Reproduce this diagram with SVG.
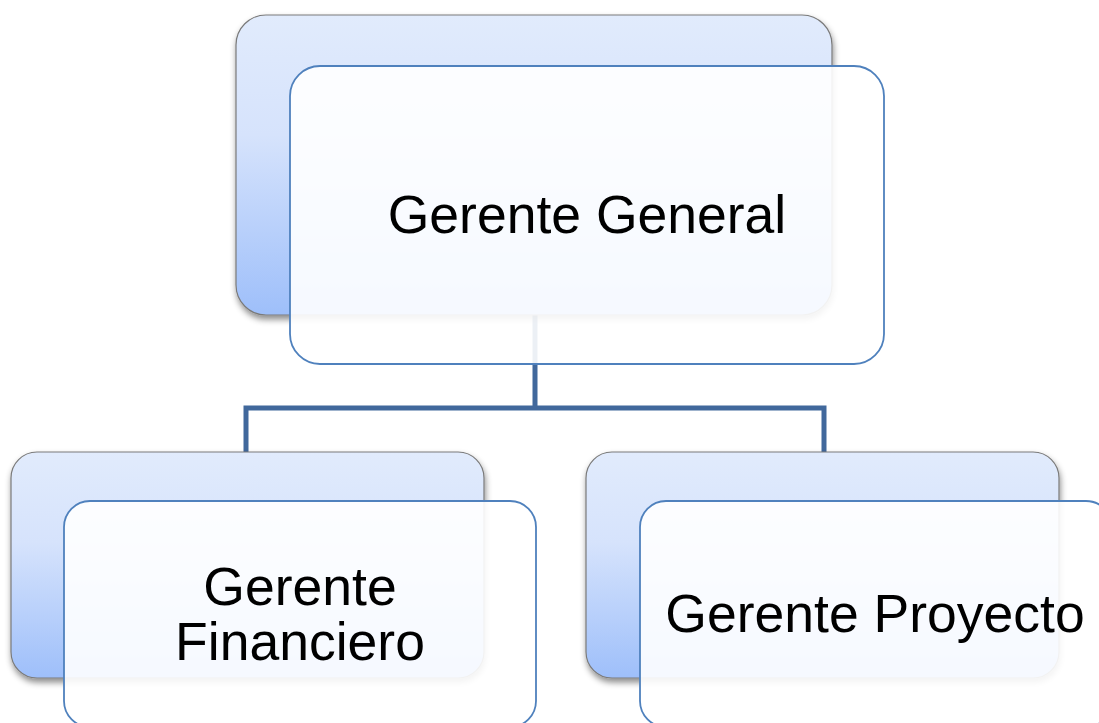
<svg xmlns="http://www.w3.org/2000/svg" width="1099" height="723" viewBox="0 0 1099 723">
  <defs>
    <linearGradient id="backGrad" x1="0" y1="0" x2="0" y2="1">
      <stop offset="0" stop-color="#e1ebfc"/>
      <stop offset="0.4" stop-color="#d6e3fc"/>
      <stop offset="1" stop-color="#9ebffa"/>
    </linearGradient>
    <filter id="shadow" x="-10%" y="-10%" width="120%" height="125%">
      <feDropShadow dx="1" dy="4" stdDeviation="3" flood-color="#000" flood-opacity="0.45"/>
    </filter>
  </defs>
  <style>
    .back { fill: url(#backGrad); stroke: #7a7a7a; stroke-width: 1.2; filter: url(#shadow); }
    .front { fill: #ffffff; fill-opacity: 0.9; stroke: #4f81bd; stroke-width: 1.8; }
    .conn { fill: none; stroke: #41689c; stroke-width: 5; stroke-linejoin: miter; }
    .label { font-family: "Liberation Sans", Arial, sans-serif; font-size: 53.5px; fill: #000; text-anchor: middle; }
  </style>
  <rect width="1099" height="723" fill="#ffffff"/>

  <g id="connectors">
    <path class="conn" d="M535,315 V408 M246,452 V408 H824 V452"/>
  </g>

  <g id="node-gerente-general">
    <rect class="back" x="236" y="15" width="596" height="300" rx="30" ry="30"/>
    <rect class="front" x="290" y="66" width="594" height="298" rx="30" ry="30"/>
    <text class="label" x="587" y="233">Gerente General</text>
  </g>

  <g id="node-gerente-financiero">
    <rect class="back" x="11" y="452" width="473" height="226" rx="26" ry="26"/>
    <rect class="front" x="64" y="501" width="472" height="226" rx="26" ry="26"/>
    <text class="label" x="300" y="605">Gerente</text>
    <text class="label" x="300" y="660">Financiero</text>
  </g>

  <g id="node-gerente-proyecto">
    <rect class="back" x="586" y="452" width="473" height="226" rx="26" ry="26"/>
    <rect class="front" x="640" y="501" width="472" height="226" rx="26" ry="26"/>
    <text class="label" x="875" y="632">Gerente Proyecto</text>
  </g>
</svg>
